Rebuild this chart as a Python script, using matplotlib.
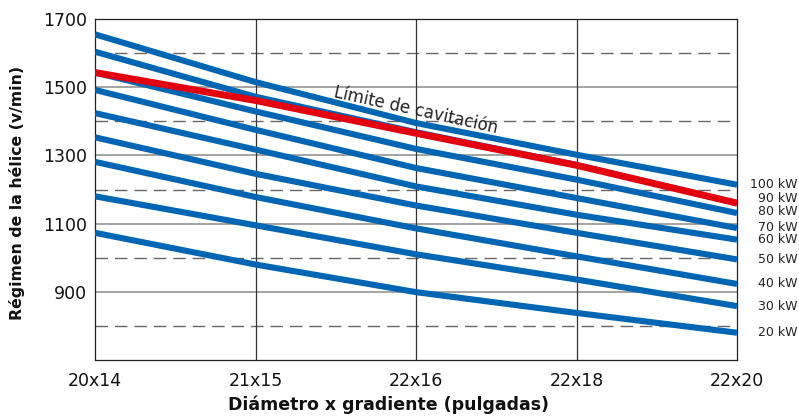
import matplotlib
matplotlib.use("Agg")
import matplotlib.pyplot as plt
import matplotlib.transforms as mtransforms

# ---- data ----
categories = ["20x14", "21x15", "22x16", "22x18", "22x20"]
kw_100 = [1655, 1515, 1395, 1302, 1214]
kw_90 = [1604, 1472, 1368, 1272, 1160]
kw_80 = [1543, 1429, 1319, 1229, 1131]
kw_70 = [1492, 1375, 1263, 1175, 1087]
kw_60 = [1424, 1317, 1209, 1126, 1053]
kw_50 = [1353, 1246, 1153, 1073, 995]
kw_40 = [1281, 1178, 1086, 1004, 923]
kw_30 = [1180, 1095, 1010, 936, 858]
kw_20 = [1073, 980, 899, 838, 780]
cavitation_limit = [1543, 1461, 1365, 1271, 1160]
power_labels = ["100 kW", "90 kW", "80 kW", "70 kW", "60 kW", "50 kW", "40 kW", "30 kW", "20 kW"]
series = [kw_100, kw_90, kw_80, kw_70, kw_60, kw_50, kw_40, kw_30, kw_20]
# label anchor heights (layout only) in rpm units
label_y = [1214, 1174, 1136, 1090, 1052, 995, 924, 857, 781]

y_ticks = [900, 1100, 1300, 1500, 1700]
y_dashed = [800, 1000, 1200, 1400, 1600]

BLUE = "#0066b3"
RED = "#e3000f"

plt.rcParams["font.family"] = ["DejaVu Sans"]

W, H = 799, 416
fig = plt.figure(figsize=(W / 100, H / 100), dpi=100)
ax = fig.add_axes([95 / W, (H - 360) / H, (737 - 95) / W, (360 - 19) / H])

x = list(range(len(categories)))

ax.set_xlim(0, len(categories) - 1)
ax.set_ylim(700, 1700)

# grid
for v in y_ticks[:-1]:
    ax.axhline(v, color="#8a8a8a", lw=1.1, zorder=1)
for v in y_dashed:
    ax.axhline(v, color="#666666", lw=1.0, dashes=(9, 5), zorder=1)
for xi in x[1:-1]:
    ax.axvline(xi, color="#333333", lw=0.9, zorder=1)

# lines
for s in series:
    ax.plot(x, s, color=BLUE, lw=4.4, solid_capstyle="butt", solid_joinstyle="round", zorder=3)
ax.plot(x, cavitation_limit, color=RED, lw=5.0, solid_capstyle="butt", solid_joinstyle="round", zorder=4)

# power labels at right
trans = mtransforms.blended_transform_factory(ax.transAxes, ax.transData)
for ly, lab in zip(label_y, power_labels):
    ax.text(1.0 + (798 - 737) / (737 - 95), ly, lab, transform=trans,
            ha="right", va="center", fontsize=9, color="#222222", clip_on=False)

ax.text(2.0, 1432, "Límite de cavitación", rotation=-12.5, rotation_mode="anchor",
        ha="center", va="center", fontsize=12, color="#222222", zorder=5)

ax.set_xticks(x)
ax.set_xticklabels(categories)
ax.set_yticks(y_ticks)
ax.tick_params(axis="both", length=0, labelsize=12.5, colors="#111111")
ax.tick_params(axis="x", pad=9)
ax.tick_params(axis="y", pad=6)

for sp in ax.spines.values():
    sp.set_color("#222222")
    sp.set_linewidth(0.9)

fig.text(389 / W, 1 - 405 / H, "Diámetro x gradiente (pulgadas)", ha="center", va="center",
         fontsize=12.5, fontweight="bold", color="#111111")
fig.text(17 / W, 1 - 193 / H, "Régimen de la hélice (v/min)", ha="center", va="center",
         rotation=90, fontsize=11.3, fontweight="bold", color="#111111")

fig.savefig("out.png", dpi=100)
